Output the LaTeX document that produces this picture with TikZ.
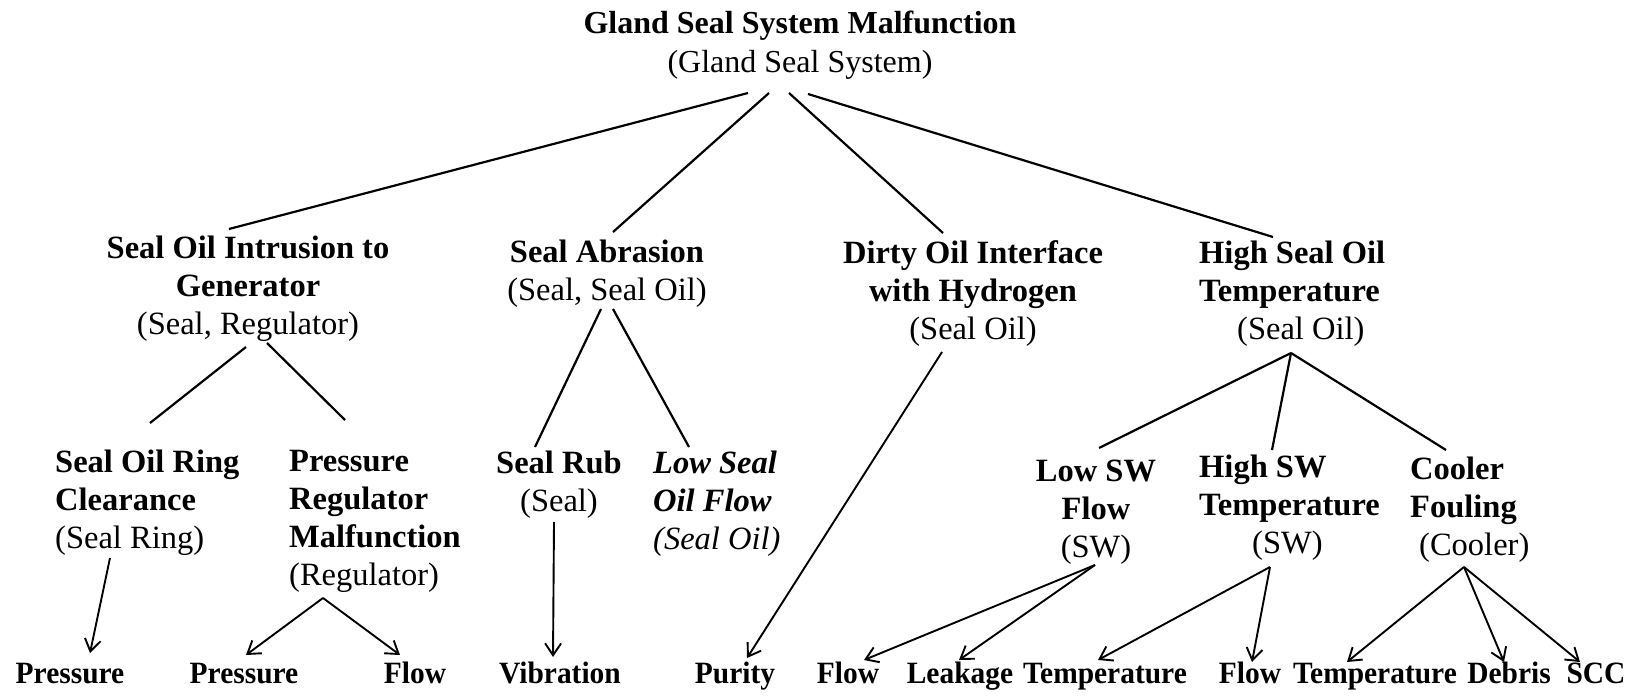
\documentclass[tikz,border=0pt]{standalone}
\usepackage{fontspec}
\setmainfont{Liberation Serif}
\newfontfamily\leaffont[FakeStretch=0.95]{Liberation Serif}
\usetikzlibrary{arrows.meta}
\begin{document}
\begin{tikzpicture}[x=1pt,y=-1pt,
  txt/.style={inner sep=0pt, font=\fontsize{32.5}{38}\selectfont},
  ctr/.style={txt, align=center, anchor=north},
  lft/.style={txt, align=left, anchor=north west},
  leaf/.style={inner sep=0pt, anchor=base, font=\leaffont\fontsize{31}{37}\selectfont\bfseries},
  link/.style={line width=2.2pt},
  arr/.style={line width=1.9pt, -{Straight Barb[length=12pt,width=16pt]}}
]
\useasboundingbox (0,0) rectangle (1633,700);

% root
\node[ctr, font=\fontsize{32}{39}\selectfont] (root) at (800,11) {\textbf{Gland Seal System Malfunction}\\(Gland Seal System)};

% level 2
\node[ctr] (soi) at (248,236) {\textbf{Seal Oil Intrusion to}\\\textbf{Generator}\\(Seal, Regulator)};
\node[ctr] (sa) at (607,240) {\textbf{Seal Abrasion}\\(Seal, Seal Oil)};
\node[ctr] (dirty) at (973,240) {\textbf{Dirty Oil Interface}\\\textbf{with Hydrogen}\\(Seal Oil)};
\node[lft] (high) at (1199,241) {\textbf{High Seal Oil}\\\textbf{Temperature}\\\hspace*{38pt}(Seal Oil)};

% level 3
\node[lft] (sor) at (55,450) {\textbf{Seal Oil Ring}\\\textbf{Clearance}\\(Seal Ring)};
\node[lft] (prm) at (289,450) {\textbf{Pressure}\\\textbf{Regulator}\\\textbf{Malfunction}\\(Regulator)};
\node[ctr] (rub) at (559,451) {\textbf{Seal Rub}\\(Seal)};
\node[lft] (lsof) at (653,451) {\textbf{\textit{Low Seal}}\\\textbf{\textit{Oil Flow}}\\\textit{(Seal Oil)}};
\node[ctr] (lsw) at (1096,460) {\textbf{Low SW}\\\textbf{Flow}\\(SW)};
\node[lft] (hsw) at (1199,455) {\textbf{High SW}\\\textbf{Temperature}\\\hspace*{53pt}(SW)};
\node[lft] (cf) at (1410,457) {\textbf{Cooler}\\\textbf{Fouling}\\\hspace*{9pt}(Cooler)};

% leaves
\node[leaf] (p1) at (70,683) {Pressure};
\node[leaf] (p2) at (244,683) {Pressure};
\node[leaf] (f1) at (415,683) {Flow};
\node[leaf] (vib) at (560,683) {Vibration};
\node[leaf] (pur) at (735,683) {Purity};
\node[leaf] (f2) at (848,683) {Flow};
\node[leaf] (leak) at (960,683) {Leakage};
\node[leaf] (t1) at (1105,683) {Temperature};
\node[leaf] (f3) at (1250,683) {Flow};
\node[leaf] (t2) at (1375,683) {Temperature};
\node[leaf] (deb) at (1509,683) {Debris};
\node[leaf] (scc) at (1596,683) {SCC};

% connector end points
\coordinate (root-a) at (748,93);
\coordinate (root-b) at (769,93);
\coordinate (root-c) at (789,93);
\coordinate (root-d) at (808,94);
\coordinate (soi-t) at (229,229);
\coordinate (sa-t) at (613,232);
\coordinate (dirty-t) at (943,233);
\coordinate (high-t) at (1273,237);
\coordinate (soi-a) at (246,347);
\coordinate (soi-b) at (267,343);
\coordinate (sor-t) at (150,423);
\coordinate (prm-t) at (345,420);
\coordinate (sa-a) at (601,309);
\coordinate (sa-b) at (613,309);
\coordinate (rub-t) at (535,447);
\coordinate (lsof-t) at (689,447);
\coordinate (dirty-b) at (942,352);
\coordinate (high-b) at (1291,353);
\coordinate (lsw-t) at (1099,448);
\coordinate (hsw-t) at (1272,450);
\coordinate (cf-t) at (1446,450);
\coordinate (sor-b) at (110,558);
\coordinate (prm-b) at (323,598);
\coordinate (rub-b) at (554,522);
\coordinate (lsw-b) at (1095,565);
\coordinate (hsw-b) at (1270,567);
\coordinate (cf-b) at (1464,567);
\coordinate (p1-t) at (90,653);
\coordinate (p2-t) at (246,655);
\coordinate (f1-t) at (400,655);
\coordinate (vib-t) at (553,657);
\coordinate (pur-t) at (747,658);
\coordinate (f2-t) at (864,660);
\coordinate (leak-t) at (959,660);
\coordinate (t1-t) at (1098,660);
\coordinate (f3-t) at (1252,662);
\coordinate (t2-t) at (1347,662);
\coordinate (deb-t) at (1504,662);
\coordinate (scc-t) at (1580,662);

% tree links
\draw[link] (root-a) -- (soi-t);
\draw[link] (root-b) -- (sa-t);
\draw[link] (root-c) -- (dirty-t);
\draw[link] (root-d) -- (high-t);
\draw[link] (soi-a) -- (sor-t);
\draw[link] (soi-b) -- (prm-t);
\draw[link] (sa-a) -- (rub-t);
\draw[link] (sa-b) -- (lsof-t);
\draw[link] (high-b) -- (lsw-t);
\draw[link] (high-b) -- (hsw-t);
\draw[link] (high-b) -- (cf-t);

% arrows to measurements
\draw[arr] (sor-b) -- (p1-t);
\draw[arr] (prm-b) -- (p2-t);
\draw[arr] (prm-b) -- (f1-t);
\draw[arr] (rub-b) -- (vib-t);
\draw[arr] (dirty-b) -- (pur-t);
\draw[arr] (lsw-b) -- (f2-t);
\draw[arr] (lsw-b) -- (leak-t);
\draw[arr] (hsw-b) -- (t1-t);
\draw[arr] (hsw-b) -- (f3-t);
\draw[arr] (cf-b) -- (t2-t);
\draw[arr] (cf-b) -- (deb-t);
\draw[arr] (cf-b) -- (scc-t);
\end{tikzpicture}
\end{document}
